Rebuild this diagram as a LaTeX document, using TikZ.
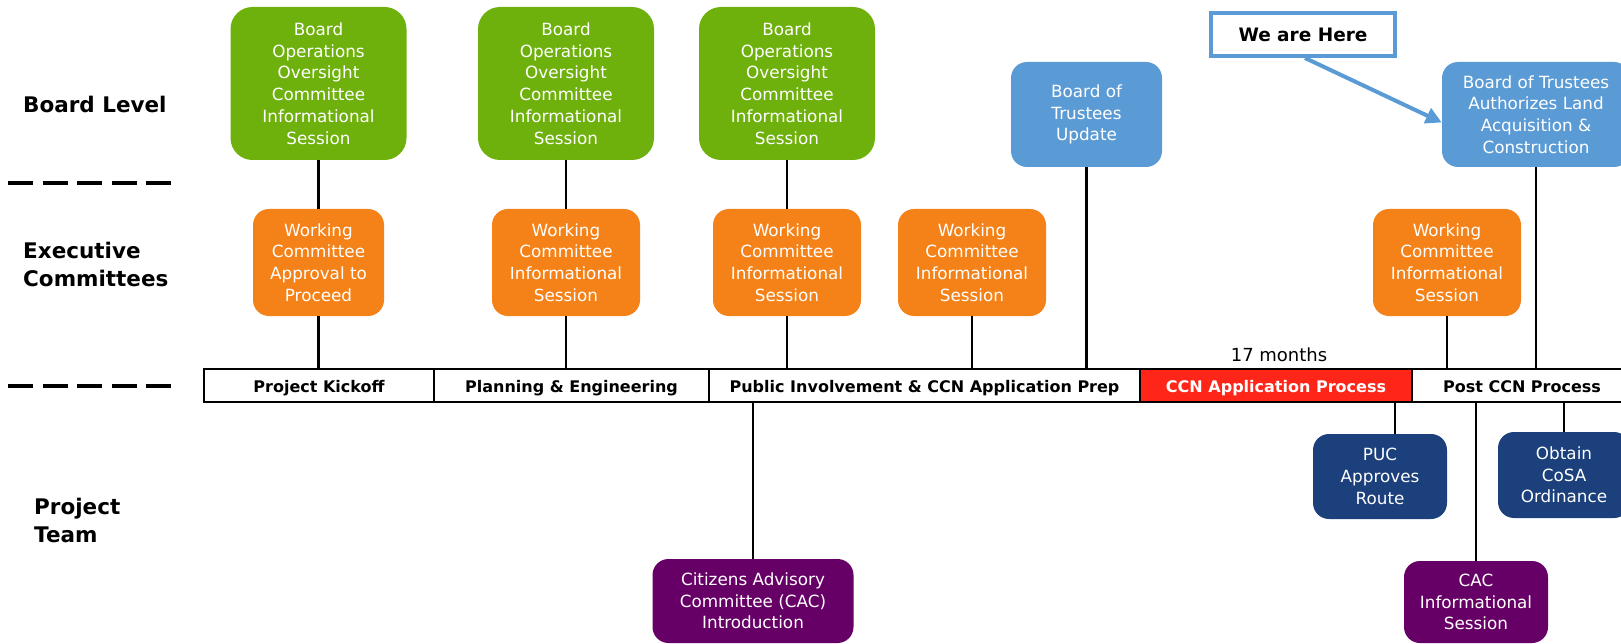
\documentclass[tikz,border=0pt]{standalone}
\usepackage{fontspec}
\setmainfont{DejaVu Sans}
\usetikzlibrary{arrows.meta}
\definecolor{grn}{RGB}{110,177,12}
\definecolor{org}{RGB}{244,130,24}
\definecolor{lblue}{RGB}{91,155,213}
\definecolor{dblue}{RGB}{27,64,124}
\definecolor{purp}{RGB}{102,0,102}
\definecolor{ccnred}{RGB}{255,38,25}
\tikzset{
  x=1pt, y=-1pt,
  box/.style={rounded corners=16pt, text=white, align=center, inner sep=0pt,
    font=\fontsize{16.8}{21.7}\selectfont},
  gbox/.style={box, fill=grn, rounded corners=22pt, minimum width=176pt, minimum height=153pt},
  obox/.style={box, fill=org, minimum width=148pt, minimum height=107pt},
  bbox/.style={box, fill=lblue, minimum height=105pt},
  dbox/.style={box, fill=dblue, minimum height=85pt},
  pbox/.style={box, fill=purp, minimum height=84pt},
  cell/.style={draw=black, line width=2pt, inner sep=0pt, minimum height=33pt,
    text height=15pt, text depth=1.5pt,
    font=\fontsize{16}{18}\selectfont\bfseries},
  conn/.style={draw=black, line width=2.2pt},
  lbl/.style={anchor=west, align=left, inner sep=0pt, font=\fontsize{21.5}{28}\selectfont\bfseries},
  sep/.style={line width=3.5pt, dash pattern=on 25pt off 9.5pt}
}
\begin{document}
\begin{tikzpicture}
\useasboundingbox (0,0) rectangle (1621,644);
% left labels
\node[lbl] (lbBoard) at (23,104) {Board Level};
\node[lbl] (lbExec) at (23,264) {Executive\\Committees};
\node[lbl] (lbTeam) at (34,520) {Project\\Team};
\draw[sep] (8,183) -- (171,183);
\draw[sep] (8,386) -- (171,386);

% timeline bar
\node[cell, minimum width=230pt] (pk) at (319,385.5) {Project Kickoff};
\node[cell, minimum width=275pt] (pe) at (571.5,385.5) {Planning \& Engineering};
\node[cell, minimum width=431pt] (pi) at (924.5,385.5) {Public Involvement \& CCN Application Prep};
\node[cell, minimum width=272pt, fill=ccnred, text=white] (ccn) at (1276,385.5) {CCN Application Process};
\node[cell, minimum width=220pt] (post) at (1522,385.5) {Post CCN Process};
\node[inner sep=0pt, font=\fontsize{18}{20}\selectfont] (months) at (1279,355) {17 months};

% board level
\node[gbox] (g1) at (318.5,83.5) {Board\\Operations\\Oversight\\Committee\\Informational\\Session};
\node[gbox] (g2) at (566,83.5) {Board\\Operations\\Oversight\\Committee\\Informational\\Session};
\node[gbox] (g3) at (787,83.5) {Board\\Operations\\Oversight\\Committee\\Informational\\Session};
\node[bbox, minimum width=151pt] (b1) at (1086.5,114.5) {Board of\\Trustees\\Update};
\node[bbox, minimum width=188pt] (b2) at (1536,114.5) {Board of Trustees\\Authorizes Land\\Acquisition \&\\Construction};

% executive committees
\node[obox, minimum width=131pt] (o1) at (318.5,262.5) {Working\\Committee\\Approval to\\Proceed};
\node[obox] (o2) at (566,262.5) {Working\\Committee\\Informational\\Session};
\node[obox] (o3) at (787,262.5) {Working\\Committee\\Informational\\Session};
\node[obox] (o4) at (972,262.5) {Working\\Committee\\Informational\\Session};
\node[obox] (o5) at (1447,262.5) {Working\\Committee\\Informational\\Session};

% project team
\node[pbox, minimum width=201pt] (cit) at (753,601) {Citizens Advisory\\Committee (CAC)\\Introduction};
\node[dbox, minimum width=134pt] (puc) at (1380,476.5) {PUC\\Approves\\Route};
\node[pbox, minimum width=144pt, minimum height=82pt] (cac) at (1476,602) {CAC\\Informational\\Session};
\node[dbox, minimum width=132pt, minimum height=86pt] (obt) at (1564,475) {Obtain\\CoSA\\Ordinance};

% we are here
\node[draw=lblue, line width=4pt, fill=white, minimum width=184pt, minimum height=43pt,
  inner sep=0pt, font=\fontsize{18.5}{20}\selectfont\bfseries] (here) at (1303,34.5) {We are Here};
\draw[draw=lblue, line width=4pt, -{Triangle[length=16pt,width=16pt]}]
  ([xshift=2pt]here.south) -- ([yshift=-8pt]b2.west);

% connectors
\draw[conn] (g1) -- (o1);
\draw[conn] (o1) -- (o1 |- pk.north);
\draw[conn] (g2) -- (o2);
\draw[conn] (o2) -- (o2 |- pe.north);
\draw[conn] (g3) -- (o3);
\draw[conn] (o3) -- (o3 |- pi.north);
\draw[conn] (o4) -- (o4 |- pi.north);
\draw[conn] (b1) -- (b1 |- pi.north);
\draw[conn] (o5) -- (o5 |- post.north);
\draw[conn] (b2) -- (b2 |- post.north);
\draw[conn] (cit) -- (cit |- pi.south);
\coordinate (pucTop) at ([xshift=15pt]puc.north);
\draw[conn] (pucTop) -- (pucTop |- ccn.south);
\draw[conn] (cac) -- (cac |- post.south);
\draw[conn] (obt) -- (obt |- post.south);
\end{tikzpicture}
\end{document}
